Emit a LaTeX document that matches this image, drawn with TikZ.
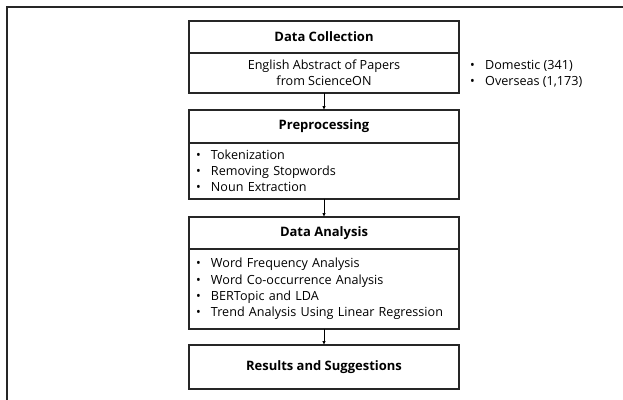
\documentclass[tikz,border=0pt]{standalone}
\usepackage{fontspec}
\setmainfont{Open Sans}
\usetikzlibrary{arrows.meta}
\tikzset{
  frame/.style={line width=1.8pt, black!85},
  boxst/.style={draw=black!85, line width=1.6pt, minimum width=270pt, inner sep=0pt, outer sep=0pt, font=\fontsize{12.6}{16.2}\selectfont},
  hdr/.style={boxst, font=\fontsize{13}{16}\selectfont\bfseries},
  body/.style={boxst, text width=256pt, inner xsep=7pt, align=left},
  cbody/.style={boxst, align=center},
  flow/.style={line width=0.9pt, -{Latex[length=4pt,width=3.5pt]}},
}
\newcommand{\itm}[1]{\makebox[15pt][l]{•}#1}
\begin{document}
\begin{tikzpicture}[x=1pt,y=-1pt]
\useasboundingbox (0,0) rectangle (623,399);
\draw[frame] (7,400) -- (7,7) -- (624,7);

\node[hdr, minimum height=32pt, anchor=north] (dch) at (324,21) {Data Collection};
\node[cbody, minimum height=40pt, anchor=north] (dcb) at (dch.south) {English Abstract of Papers\\from ScienceON};
\node[anchor=west, align=left, inner sep=0pt, font=\fontsize{12.6}{16}\selectfont] (side) at (470,74) {\itm{Domestic (341)}\\\itm{Overseas (1,173)}};

\node[hdr, minimum height=33pt, anchor=north] (prh) at (324,110) {Preprocessing};
\node[body, minimum height=56pt, anchor=north] (prb) at (prh.south) {\itm{Tokenization}\\\itm{Removing Stopwords}\\\itm{Noun Extraction}};

\node[hdr, minimum height=32pt, anchor=north] (dah) at (324,217) {Data Analysis};
\node[body, minimum height=80pt, anchor=north] (dab) at (dah.south) {\itm{Word Frequency Analysis}\\\itm{Word Co-occurrence Analysis}\\\itm{BERTopic and LDA}\\\itm{Trend Analysis Using Linear Regression}};

\node[hdr, minimum height=44pt, anchor=north] (res) at (324,345) {Results and Suggestions};

\draw[flow] (dcb.south) -- (prh.north);
\draw[flow] (prb.south) -- (dah.north);
\draw[flow] (dab.south) -- (res.north);
\end{tikzpicture}
\end{document}
